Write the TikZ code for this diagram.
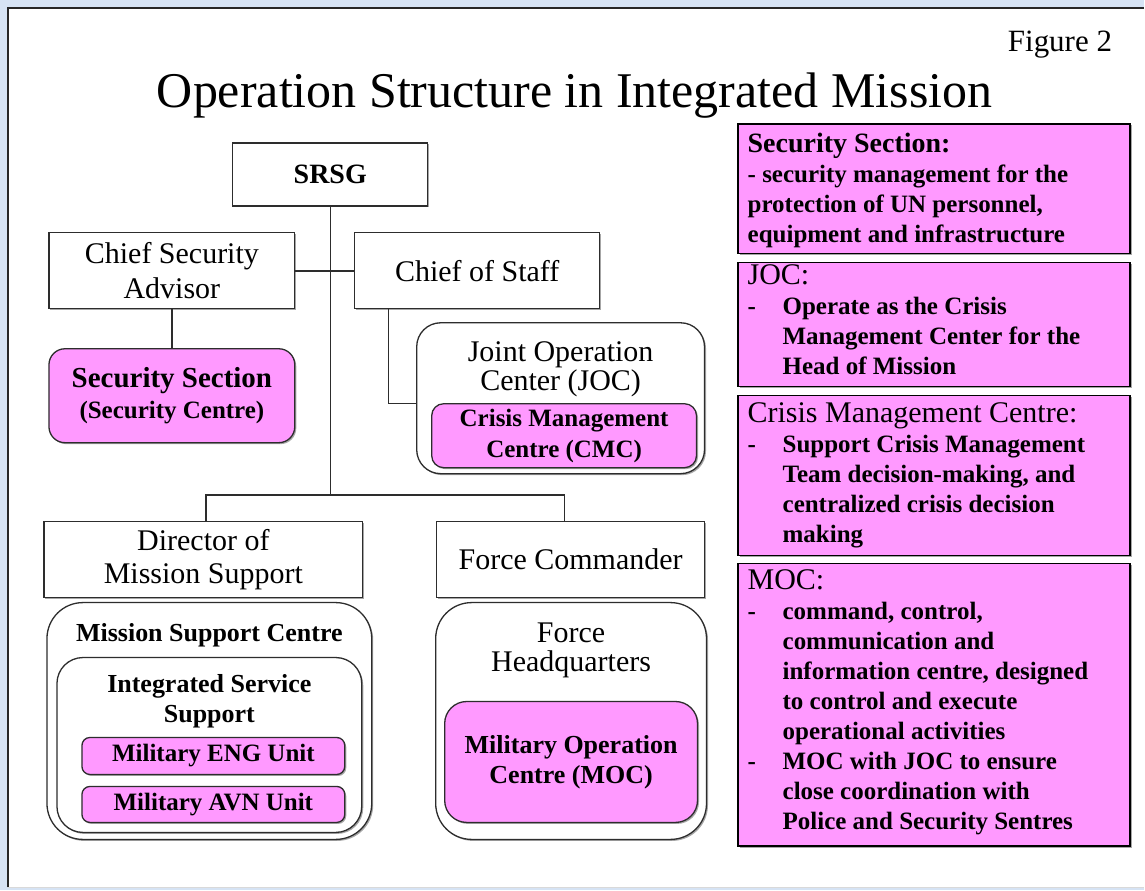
\documentclass[tikz,border=0pt]{standalone}
\usepackage{fontspec}
\setmainfont{Liberation Serif}
\usepackage{array}
\usetikzlibrary{shadows}
\definecolor{pinkf}{RGB}{255,153,255}
\definecolor{bgblue}{RGB}{214,227,244}
\definecolor{lin}{RGB}{45,45,45}
\newcommand{\myfs}[2]{\fontsize{#1}{#2}\selectfont}
\newcommand{\ml}[1]{\begin{tabular}[t]{@{}c@{}}#1\end{tabular}}
\begin{document}
\begin{tikzpicture}[x=1pt,y=-1pt,
 shad/.style={drop shadow={shadow xshift=1.5pt,shadow yshift=-1.5pt,opacity=0.35,fill=black}},
 sq/.style={draw=lin,line width=1.3pt,fill=white,inner sep=0pt,align=center,shad},
 pk/.style={draw=lin,line width=1.3pt,fill=pinkf,inner sep=0pt,align=center,rounded corners=12pt,shad,font=\bfseries\myfs{25}{31}},
 cont/.style={draw=lin,line width=1.3pt,fill=white,inner sep=0pt,shad},
 rb/.style={draw=black,line width=1.6pt,fill=pinkf,inner sep=0pt,anchor=north west,shad},
 rt/.style={anchor=base west,inner sep=0pt,font=\myfs{25}{30}},
 conn/.style={draw=lin,line width=1.4pt},
 lbl/.style={inner sep=0pt,anchor=base,align=center}
]
\fill[bgblue] (0,0) rectangle (1145,891);
\fill[white] (8,8) rectangle (1145,888);
\draw[line width=1.6pt,black!85] (8,888) -- (8,8) -- (1145,8);
\draw[black!15] (8,888) -- (1145,888);
\useasboundingbox (0,0) rectangle (1145,891);

% titles
\node[anchor=base,inner sep=0pt,font=\myfs{50}{56}] (title) at (575,108) {Operation Structure in Integrated Mission};
\node[anchor=base east,inner sep=0pt,font=\myfs{31}{34}] (fig) at (1113,52) {Figure 2};

% tree
\node[sq,minimum width=195pt,minimum height=63pt,font=\bfseries\myfs{28}{32}] (srsg) at (330.5,174.5) {SRSG};
\node[sq,minimum width=246pt,minimum height=76pt,font=\myfs{30}{35}] (csa) at (172,271) {Chief Security\\Advisor};
\node[sq,minimum width=245pt,minimum height=76pt,font=\myfs{30}{35}] (cos) at (477.5,271) {Chief of Staff};
\node[pk,minimum width=246pt,minimum height=94pt,rounded corners=16pt] (secs) at (172,396) {{\myfs{29}{32}Security Section}\\{\myfs{25}{32}(Security Centre)}};

\node[cont,minimum width=288pt,minimum height=151pt,rounded corners=24pt] (joc) at (561,398.5) {};
\node[lbl,font=\myfs{30}{28}] (joct) at (561,362) {\ml{Joint Operation\\Center (JOC)}};
\node[pk,minimum width=265pt,minimum height=64pt,rounded corners=12pt,font=\bfseries\myfs{25}{31}] (cmc) at (564.5,436) {Crisis Management\\Centre (CMC)};

\node[sq,minimum width=319pt,minimum height=76pt,font=\myfs{30}{33}] (dms) at (203.5,560) {Director of\\Mission Support};
\node[sq,minimum width=268pt,minimum height=76pt,font=\myfs{30}{33}] (fc) at (571,560) {Force Commander};

\node[cont,minimum width=325pt,minimum height=237pt,rounded corners=36pt] (msc) at (209.5,721.5) {};
\node[lbl,font=\bfseries\myfs{26}{30}] (msct) at (209.5,642) {Mission Support Centre};
\node[cont,minimum width=305pt,minimum height=175pt,rounded corners=26pt] (iss) at (209.5,745.5) {};
\node[lbl,font=\bfseries\myfs{26}{30}] (isst) at (209.5,693) {\ml{Integrated Service\\Support}};
\node[pk,minimum width=263pt,minimum height=37pt,rounded corners=8pt] (eng) at (213.5,756.5) {Military ENG Unit};
\node[pk,minimum width=263pt,minimum height=36pt,rounded corners=8pt] (avn) at (213.5,805) {Military AVN Unit};

\node[cont,minimum width=271pt,minimum height=237pt,rounded corners=36pt] (fhq) at (571.5,721.5) {};
\node[lbl,font=\myfs{30}{27}] (fhqt) at (571.5,643) {\ml{Force\\Headquarters}};
\node[pk,minimum width=253pt,minimum height=121pt,rounded corners=22pt,font=\bfseries\myfs{26}{30}] (moc) at (571.5,762.5) {Military Operation\\Centre (MOC)};

% connectors
\coordinate (bar) at (330.5,496);
\draw[conn] (srsg.south) -- (bar);
\draw[conn] ([xshift=2.5pt]dms.north) -- ++(0,-26) -| ([xshift=-6pt]fc.north);
\draw[conn] (csa.east) -- (cos.west);
\draw[conn] (csa.south) -- (secs.north);
\draw[conn] ([xshift=-88.5pt]cos.south) |- ([yshift=-5.5pt]joc.west);

% right panel
\node[rb,minimum width=392pt,minimum height=130pt] (r1) at (738,123) {};
\node[rt,font=\bfseries\myfs{25}{30}] (r1t) at (748,153) {\begin{tabular}[t]{@{}l@{}}{\myfs{28}{30}Security Section:}\\- security management for the\\protection of UN personnel,\\equipment and infrastructure\end{tabular}};

\node[rb,minimum width=392pt,minimum height=124pt] (r2) at (738,262) {};
\node[rt] (r2t) at (748,285) {\begin{tabular}[t]{@{}>{\bfseries}p{35pt}@{}>{\bfseries}l@{}}
\multicolumn{2}{@{}l@{}}{\myfs{30}{30}JOC:}\\
- & Operate as the Crisis\\
 & Management Center for the\\
 & Head of Mission\end{tabular}};

\node[rb,minimum width=392pt,minimum height=160pt] (r3) at (738,395) {};
\node[rt] (r3t) at (748,423) {\begin{tabular}[t]{@{}>{\bfseries}p{35pt}@{}>{\bfseries}l@{}}
\multicolumn{2}{@{}l@{}}{\myfs{30}{30}Crisis Management Centre:}\\
- & Support Crisis Management\\
 & Team decision-making, and\\
 & centralized crisis decision\\
 & making\end{tabular}};

\node[rb,minimum width=392pt,minimum height=283pt] (r4) at (738,563) {};
\node[rt] (r4t) at (748,590) {\begin{tabular}[t]{@{}>{\bfseries}p{35pt}@{}>{\bfseries}l@{}}
\multicolumn{2}{@{}l@{}}{\myfs{30}{30}MOC:}\\
- & command, control,\\
 & communication and\\
 & information centre, designed\\
 & to control and execute\\
 & operational activities\\
- & MOC with JOC to ensure\\
 & close coordination with\\
 & Police and Security Sentres\end{tabular}};
\end{tikzpicture}
\end{document}
